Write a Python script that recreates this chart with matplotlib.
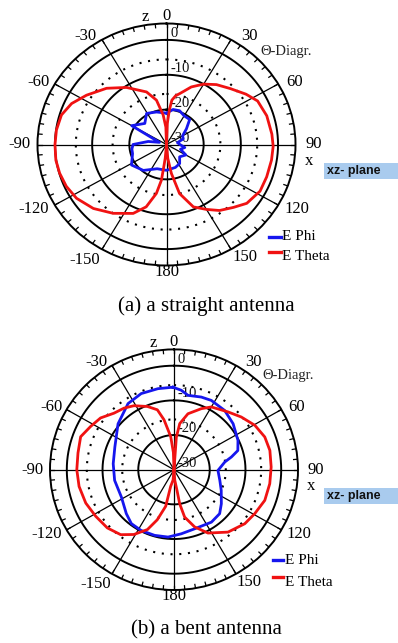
import numpy as np
import matplotlib
matplotlib.use("Agg")
import matplotlib.pyplot as plt
from matplotlib.lines import Line2D
from matplotlib.patches import Rectangle

# ---------------- data (dB versus angle in degrees) ----------------
R_MIN, R_MAX = -30.0, 4.7

# (a) straight antenna
a_theta_ang = [0, 2, 4.5, 6.5, 10, 14, 22, 30, 38, 47, 56, 63, 73, 84, 91, 99, 109, 118, 128,
               135, 143, 150, 158, 166, 171, 175, 180,
               -175, -173.5, -172.4, -169, -163, -155.6, -144, -133, -122.5, -114, -106,
               -98.6, -90, -82, -73.3, -65.3, -56.7, -45, -33.4, -19.6, -12, -6, -2]
a_theta_db = [-30, -24, -20, -17.2, -15.8, -14.9, -12.2, -10.0, -8.2, -6.5, -4.2, -2.5, -1.8, -1.5,
              -1.3, -1.4, -1.5, -1.5, -2.6, -4.5, -6.3, -8.5, -10.7, -15.5, -21.6, -26, -30,
              -26, -23.6, -19.7, -15.7, -11.3, -8.3, -5.6, -3.1, -1.3, -0.5, -0.1,
              0.1, 0.0, -0.1, -0.5, -1.9, -4.25, -7.2, -10.4, -14.0, -17.0, -21.5, -25]
a_phi_ang = [0, 10, 20, 30, 41, 50, 60, 70, 80, 90, 100, 110, 120, 135, 147, 160, 180,
             -160, -140, -122, -106, -98, -90, -80, -72, -60, -44, -31, -16]
a_phi_db = [-21, -19.8, -19.7, -20.5, -20.5, -23, -25, -25.2, -27, -26.4, -25, -26, -24, -25,
            -23.5, -23, -22.6, -22.6, -20.3, -18.9, -20.5, -20.6, -21, -25, -28, -19.2, -21.6,
            -19.6, -20.3]

# (b) bent antenna
b_theta_ang = [0, 4, 6.9, 13.6, 23.5, 30, 42.2, 51.1, 60.5, 69.6, 78.3, 88.4, 98.6, 109.2, 119.4,
               128.2, 140, 152.5, 160.7, 167.7, 170.8, 172, 176, 180,
               -175, -169, -167.6, -162, -156.7, -149, -141.5, -132, -121.5, -111.3, -100.3,
               -90, -79.8, -70, -61.8, -54, -45.8, -38.2, -31.3, -22.2, -15.1, -11, -5.5, -2]
b_theta_db = [-30, -20.6, -16.6, -13.4, -10.8, -9.1, -7.5, -5.8, -4.0, -2.9, -2.6, -2.8, -2.9, -3.1,
              -4.1, -4.8, -6.5, -9.4, -12.5, -16.0, -20.0, -24, -27, -30,
              -27, -25.1, -19.2, -14.8, -11.2, -8.2, -6.05, -4.9, -4.3, -3.5, -3.0,
              -2.8, -2.7, -2.2, -3.55, -4.6, -6.6, -7.4, -8.4, -10.3, -12.1, -15.3, -20.4, -25]
b_phi_ang = [-0.7, 5.1, 10.4, 20, 27.6, 39.7, 51.3, 64.7, 72.8, 77.1, 81.1, 91, 103.6, 114.3,
             126.6, 134.8, 145.3, 161.2, 173.7, -175.1, -164, -152.4, -142.5, -133.5, -118.1,
             -100.5, -84.2, -68.4, -49.8, -34, -22.7, -10.9]
b_phi_db = [-6.2, -7.0, -8.2, -7.7, -7.45, -7.8, -8.8, -10.2, -11.3, -13.5, -15.6, -17.7, -16.8,
            -15.5, -13.5, -12.0, -11.6, -12.0, -11.4, -10.5, -10.3, -10.2, -10.4, -11.6, -13.3,
            -13.1, -12.9, -12.2, -9.5, -7.0, -6.2, -6.2]

angle_labels = ["0", "30", "60", "90", "120", "150", "180", "-150", "-120", "-90", "-60", "-30"]
radial_ticks = [0, -10, -20, -30]
series_names = ["E Phi", "E Theta"]
captions = ["(a) a straight antenna", "(b) a bent antenna"]

# ---------------- styling / layout ----------------
BLUE = "#1616ee"
RED = "#f01212"
SERIF = ["Liberation Serif", "DejaVu Serif"]
W, H = 398, 643

# label placement (angle deg, radius as fraction of outer ring)
label_pos = [(0, 1.065), (35.6, 1.10), (62.3, 1.12), (90, 1.14), (117.8, 1.14), (147, 1.112),
             (180, 1.05), (-146.3, 1.145), (-117.3, 1.16), (-90, 1.142), (-62.3, 1.12), (-35, 1.09)]

fig = plt.figure(figsize=(W / 100, H / 100), dpi=100)
fig.patch.set_facecolor("white")


def fx(px):
    return px / W


def fy(py):
    return 1 - py / H


def draw(box, th_ang, th_db, ph_ang, ph_db):
    cx, cy, rx, ry = box
    ax = fig.add_axes([fx(cx - rx), fy(cy + ry), 2 * rx / W, 2 * ry / H], projection="polar")
    ax.set_theta_zero_location("N")
    ax.set_theta_direction(-1)
    ax.set_ylim(R_MIN, R_MAX)
    ax.set_aspect("auto")
    ax.grid(False)
    ax.set_xticks([])
    ax.set_yticks([])
    ax.spines["polar"].set_linewidth(1.4)
    ax.spines["polar"].set_color("black")
    span = R_MAX - R_MIN

    t = np.linspace(0, 2 * np.pi, 721)
    for r in [-20, -10, 0]:
        ax.plot(t, np.full_like(t, r), color="black", lw=1.4, zorder=2)
    for r in [-15.5, -5.6]:
        ax.plot(t, np.full_like(t, r), color="black", lw=1.5, linestyle=(0, (1.0, 3.2)), zorder=2)
    for a in range(0, 360, 30):
        ax.plot([np.deg2rad(a)] * 2, [R_MIN, R_MAX], color="black", lw=0.9, zorder=2)
    for a in range(0, 360, 5):
        ax.plot([np.deg2rad(a)] * 2, [R_MAX - 1.1, R_MAX], color="black", lw=0.9, zorder=2)

    for r in radial_ticks:
        ax.annotate(str(r), xy=(0, r), xytext=(4, 0), textcoords="offset pixels",
                    ha="left", va="bottom", fontsize=10.5, family=SERIF, color="#111111", zorder=1)

    for lab, (a, fr) in zip(angle_labels, label_pos):
        ax.text(np.deg2rad(a), R_MIN + fr * span, lab, ha="center", va="center", fontsize=12,
                family=SERIF, clip_on=False)
    ax.text(np.deg2rad(-9), R_MIN + 1.068 * span, "z", ha="center", va="center", fontsize=12,
            family=SERIF, clip_on=False)
    ax.text(np.deg2rad(97.0), R_MIN + 1.112 * span, "x", ha="center", va="center", fontsize=12,
            family=SERIF, clip_on=False)

    pa = np.deg2rad(np.r_[ph_ang, ph_ang[0]])
    pr = np.r_[ph_db, ph_db[0]]
    ax.plot(pa, pr, color=BLUE, lw=2.0, zorder=4, solid_joinstyle="round")
    ta = np.deg2rad(np.r_[th_ang, th_ang[0]])
    tr = np.r_[th_db, th_db[0]]
    ax.plot(ta, tr, color=RED, lw=2.0, zorder=5, solid_joinstyle="round")
    return ax


draw((166.5, 144.5, 129, 121), a_theta_ang, a_theta_db, a_phi_ang, a_phi_db)
draw((174, 469.7, 124, 120.3), b_theta_ang, b_theta_db, b_phi_ang, b_phi_db)

# texts, legend-like keys, plane boxes
for (tx, ty) in [(286.5, 51), (288, 376)]:
    fig.text(fx(tx), fy(ty), "\u0398-Diagr.", ha="center", va="center", fontsize=10.5,
             family=SERIF, color="#222222")

for (top, bottom) in [(163.3, 179.3), (488.3, 504.3)]:
    fig.patches.append(Rectangle((fx(324), fy(bottom)), (W - 324) / W, (bottom - top) / H,
                                 transform=fig.transFigure, facecolor="#a9cbee", edgecolor="none"))
    fig.text(fx(327), fy((top + bottom) / 2), "xz- plane", ha="left", va="center", fontsize=9,
             family=["Liberation Sans", "DejaVu Sans"], fontweight="bold", color="#111111")

legend_rows = [
    # (x0, x1, y_line, x_text, y_text)
    [(269.3, 280.7, 237.3, 282, 236.7), (269.3, 280.7, 252.3, 282, 257)],
    [(272.7, 283.3, 560, 285, 560.5), (272.7, 283.3, 577.3, 285, 582)],
]
for rows in legend_rows:
    for (x0, x1, yl, xt, yt), name, col in zip(rows, series_names, [BLUE, RED]):
        fig.add_artist(Line2D([fx(x0), fx(x1)], [fy(yl), fy(yl)], color=col, lw=2.4,
                              transform=fig.transFigure))
        fig.text(fx(xt), fy(yt), name, ha="left", va="center", fontsize=11, family=SERIF)

for cap, (tx, ty) in zip(captions, [(206, 306.5), (206, 630)]):
    fig.text(fx(tx), fy(ty), cap, ha="center", va="center", fontsize=15, family=SERIF)

fig.savefig("out.png", dpi=100)
